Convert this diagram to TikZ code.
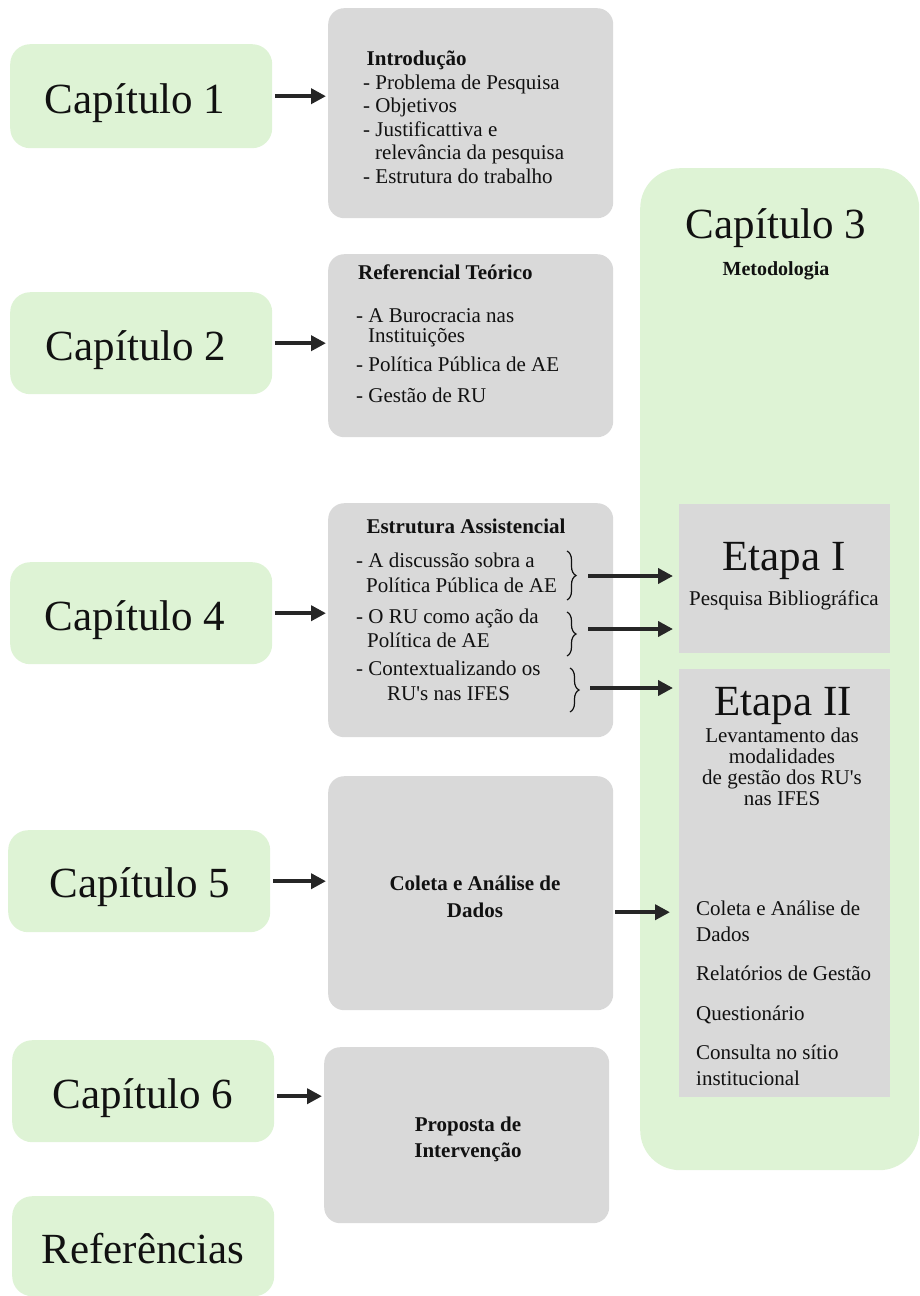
\documentclass[tikz,border=0pt]{standalone}
\usepackage{fontspec}
\setmainfont{Liberation Serif}
\newfontfamily\apfont{Liberation Serif}
\newcommand{\ap}{{\apfont\symbol{39}}}
\usetikzlibrary{arrows.meta,decorations.pathreplacing}
\definecolor{gbox}{RGB}{222,243,213}
\definecolor{grbox}{RGB}{217,217,217}
\definecolor{arrcol}{RGB}{38,38,38}
\definecolor{txt}{RGB}{17,17,17}
\begin{document}
\begin{tikzpicture}[x=1pt,y=-1pt,
  greenbox/.style={fill=gbox, draw=none, rounded corners=20pt, anchor=north west, inner sep=0pt},
  graybox/.style={fill=grbox, draw=none, rounded corners=16pt, anchor=north west, inner sep=0pt},
  flatbox/.style={fill=grbox, draw=none, anchor=north west, inner sep=0pt},
  big/.style={font=\fontsize{43}{48}\selectfont, inner sep=0pt, anchor=base, text=txt},
  small/.style={font=\fontsize{21}{23.5}\selectfont, inner sep=0pt, align=left, anchor=base west, text=txt},
  smallc/.style={font=\fontsize{21}{23.5}\selectfont, inner sep=0pt, align=center, anchor=base, text=txt},
  boldt/.style={font=\fontsize{21}{23.5}\selectfont\bfseries, inner sep=0pt, anchor=base, text=txt, align=center},
  arrow/.style={draw=arrcol, line width=4pt, -{Triangle[length=15pt,width=15pt]}},
  bracedeco/.style={draw=txt, line width=1.2pt, decorate, decoration={brace, amplitude=9pt}}
]
\useasboundingbox (0,0) rectangle (919,1296);

% big methodology box
\node[greenbox, rounded corners=40pt, minimum width=279pt, minimum height=1002pt] (c3) at (640,168) {};
\node[big] (c3t) at (776,238) {Capítulo 3};
\node[boldt, font=\fontsize{20}{23}\selectfont\bfseries] (c3m) at (776,275) {Metodologia};
\node[flatbox, minimum width=211pt, minimum height=149pt] (e1) at (679,504) {};
\node[big] (e1t) at (784,570) {Etapa I};
\node[smallc] (e1s) at (784,605) {Pesquisa Bibliográfica};
\node[flatbox, minimum width=211pt, minimum height=428pt] (e2) at (679,669) {};
\node[big] (e2t) at (783,715) {Etapa II};
\node[smallc, font=\fontsize{21}{21}\selectfont] (e2s) at (782,805) {Levantamento das\\modalidades\\de gestão dos RU\ap s\\nas IFES};
\node[small, font=\fontsize{21}{26}\selectfont] (e2l) at (696,1085) {Coleta e Análise de\\Dados\\[13pt]Relatórios de Gestão\\[14pt]Questionário\\[13pt]Consulta no sítio\\institucional};

% chapter boxes
\node[greenbox, minimum width=262pt, minimum height=104pt] (c1) at (10,44) {};
\node[big] (c1t) at (135,113) {Capítulo 1};
\node[greenbox, minimum width=262pt, minimum height=102pt] (c2) at (10,292) {};
\node[big] (c2t) at (136,360) {Capítulo 2};
\node[greenbox, minimum width=262pt, minimum height=102pt] (c4) at (10,562) {};
\node[big] (c4t) at (135,630) {Capítulo 4};
\node[greenbox, minimum width=262pt, minimum height=102pt] (c5) at (8,830) {};
\node[big] (c5t) at (140,897) {Capítulo 5};
\node[greenbox, minimum width=262pt, minimum height=102pt] (c6) at (12,1040) {};
\node[big] (c6t) at (143,1108) {Capítulo 6};
\node[greenbox, minimum width=262pt, minimum height=100pt] (ref) at (12,1196) {};
\node[big] (reft) at (143,1263) {Referências};

% gray content boxes
\node[graybox, minimum width=285pt, minimum height=210pt] (intro) at (328,8) {};
\node[small] (introl) at (363,183) {\textbf{\,Introdução}\\- Problema de Pesquisa\\- Objetivos\\- Justificattiva e\\\hspace*{12pt}relevância da pesquisa\\- Estrutura do trabalho};

\node[graybox, minimum width=285pt, minimum height=183pt] (teo) at (328,254) {};
\node[boldt, anchor=base west] (teot) at (358,279) {Referencial Teórico};
\node[small] (teol) at (356,402) {- A Burocracia nas\\[-3.5pt]\hspace*{12pt}Instituições\\[5.5pt]- Política Pública de AE\\[7.5pt]- Gestão de RU};

\node[graybox, minimum width=285pt, minimum height=234pt] (est) at (328,503) {};
\node[boldt] (estt) at (466,533) {Estrutura Assistencial};
\node[small, font=\fontsize{21}{24.5}\selectfont] (estl) at (356,700) {- A discussão sobra a\\\hspace*{10pt}Política Pública de AE\\[6.5pt]- O RU como ação da\\\hspace*{11pt}Política de AE\\[3.5pt]- Contextualizando os\\\hspace*{31pt}RU\ap s nas IFES};

\node[graybox, minimum width=285pt, minimum height=234pt] (col) at (328,776) {};
\node[boldt, font=\fontsize{21}{27}\selectfont\bfseries] (colt) at (475,917) {Coleta e Análise de\\Dados};

\node[graybox, minimum width=285pt, minimum height=176pt] (prop) at (324,1047) {};
\node[boldt, font=\fontsize{21}{26}\selectfont\bfseries] (propt) at (468,1157) {Proposta de\\Intervenção};

% braces
\draw[bracedeco] (567,551) -- (567,600) coordinate[midway, xshift=10pt] (b1);
\draw[bracedeco] (567,612) -- (567,656) coordinate[midway, xshift=10pt] (b2);
\draw[bracedeco] (570,668) -- (570,712) coordinate[midway, xshift=10pt] (b3);

% arrows
\draw[arrow, shorten <=3pt, shorten >=2pt] (c1.east) -- (c1.east -| intro.west);
\draw[arrow, shorten <=3pt, shorten >=2pt] (c2.east) -- (c2.east -| teo.west);
\draw[arrow, shorten <=3pt, shorten >=2pt] (c4.east) -- (c4.east -| est.west);
\draw[arrow, shorten <=3pt, shorten >=2pt] (c5.east) -- (c5.east -| col.west);
\draw[arrow, shorten <=3pt, shorten >=2pt] ([yshift=-5pt]c6.east) -- ([yshift=-5pt]c6.east -| prop.west);

\coordinate (a1) at (588,576);
\coordinate (a2) at (588,629);
\coordinate (a3) at (590,688);
\draw[arrow, shorten >=6pt] (a1) -- (a1 -| e1.west);
\draw[arrow, shorten >=6pt] (a2) -- (a2 -| e1.west);
\draw[arrow, shorten >=6pt] (a3) -- (a3 -| e2.west);
\draw[arrow, shorten <=2pt, shorten >=9pt] ([yshift=-19pt]col.east) -- ([yshift=-19pt]col.east -| e2.west);
\end{tikzpicture}
\end{document}
